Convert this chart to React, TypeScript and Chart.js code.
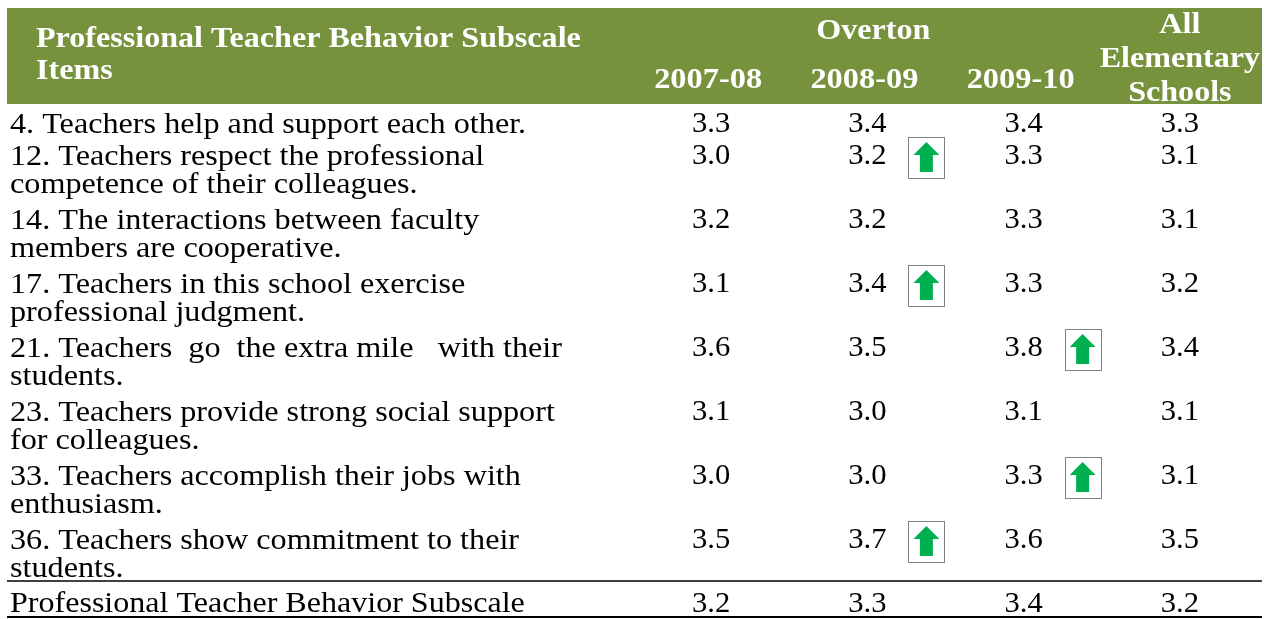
import React, { useEffect, useRef } from "react";
import { Chart, registerables } from "chart.js";

Chart.register(...registerables);

// ---------- data ----------
const itemLabels: string[][] = [
  ["4. Teachers help and support each other."],
  ["12. Teachers respect the professional", "competence of their colleagues."],
  ["14. The interactions between faculty", "members are cooperative."],
  ["17. Teachers in this school exercise", "professional judgment."],
  ["21. Teachers  go  the extra mile   with their", "students."],
  ["23. Teachers provide strong social support", "for colleagues."],
  ["33. Teachers accomplish their jobs with", "enthusiasm."],
  ["36. Teachers show commitment to their", "students."],
];
const summaryLabel = "Professional Teacher Behavior Subscale";
const headerTitle = ["Professional Teacher Behavior Subscale", "Items"];
const groupLabel = "Overton";
const columnLabels: string[][] = [["2007-08"], ["2008-09"], ["2009-10"], ["All", "Elementary", "Schools"]];

const values2007 = [3.3, 3.0, 3.2, 3.1, 3.6, 3.1, 3.0, 3.5];
const values2008 = [3.4, 3.2, 3.2, 3.4, 3.5, 3.0, 3.0, 3.7];
const values2009 = [3.4, 3.3, 3.3, 3.3, 3.8, 3.1, 3.3, 3.6];
const valuesAll = [3.3, 3.1, 3.1, 3.2, 3.4, 3.1, 3.1, 3.5];
const summaryValues = [3.2, 3.3, 3.4, 3.2];

const up2007 = [false, false, false, false, false, false, false, false];
const up2008 = [false, true, false, true, false, false, false, true];
const up2009 = [false, false, false, false, true, false, true, false];
const upAll = [false, false, false, false, false, false, false, false];

// row positions (in text lines) derived from labels
const rowPos: number[] = [];
{
  let acc = 0;
  for (const l of itemLabels) {
    rowPos.push(acc);
    acc += l.length;
  }
  rowPos.push(acc);
}

const columns = [
  { values: values2007, up: up2007 },
  { values: values2008, up: up2008 },
  { values: values2009, up: up2009 },
  { values: valuesAll, up: upAll },
];

const GREEN = "#77923C";
const SERIF = '"Liberation Serif", "Times New Roman", serif';

function txt(ctx: CanvasRenderingContext2D, s: string, x: number, y: number, sx: number) {
  ctx.save();
  ctx.translate(x, y);
  ctx.scale(sx, 1);
  ctx.fillText(s, 0, 0);
  ctx.restore();
}

const tablePlugin = {
  id: "tablePlugin",
  afterDatasetsDraw(chart: any) {
    const ctx: CanvasRenderingContext2D = chart.ctx;
    const xs = chart.scales.x;
    const ys = chart.scales.y;
    ctx.save();

    // header band
    ctx.fillStyle = GREEN;
    ctx.fillRect(7, 8, 1262 - 7, 104 - 8);
    ctx.fillStyle = "#ffffff";
    ctx.font = `bold 30px ${SERIF}`;
    ctx.textBaseline = "middle";
    ctx.textAlign = "left";
    txt(ctx, headerTitle[0], 36, 39, 1.07);
    txt(ctx, headerTitle[1], 36, 71, 1.07);
    ctx.textAlign = "center";
    txt(ctx, groupLabel, xs.getPixelForValue(2) + 6, 31, 1.07);
    columnLabels.forEach((lines, i) => {
      const cx = xs.getPixelForValue(i + 1);
      if (lines.length === 1) {
        txt(ctx, lines[0], cx - 3, 80, 1.08);
      } else {
        lines.forEach((t, k) => txt(ctx, t, cx, 25 + k * 34, 1.07));
      }
    });

    // row labels
    ctx.fillStyle = "#000000";
    ctx.font = `29px ${SERIF}`;
    ctx.textAlign = "left";
    itemLabels.forEach((lines, r) => {
      const y = ys.getPixelForValue(rowPos[r]);
      lines.forEach((t, k) => txt(ctx, t, 10, y + 1 + k * 28, 1.11));
    });
    const sy = ys.getPixelForValue(rowPos[itemLabels.length]);
    txt(ctx, summaryLabel, 10, sy, 1.105);

    // values + arrows
    ctx.font = `30px ${SERIF}`;
    ctx.textAlign = "center";
    chart.data.datasets.forEach((ds: any, di: number) => {
      const meta = chart.getDatasetMeta(di);
      meta.data.forEach((pt: any, j: number) => {
        const v = ds.data[j].v;
        ctx.fillStyle = "#000000";
        txt(ctx, v.toFixed(1), pt.x, pt.y, 1.02);
        if (ds.data[j].up) {
          const bx = pt.x + 59;
          const by = pt.y + 1;
          const bw = 36, bh = 41;
          ctx.fillStyle = "#ffffff";
          ctx.fillRect(bx - bw / 2, by - bh / 2, bw, bh);
          ctx.strokeStyle = "#7f7f7f";
          ctx.lineWidth = 1;
          ctx.strokeRect(Math.round(bx - bw / 2) + 0.5, Math.round(by - bh / 2) + 0.5, bw, bh);
          ctx.fillStyle = "#00B050";
          ctx.beginPath();
          const top = by - 15, mid = by - 2, bot = by + 15;
          ctx.moveTo(bx, top);
          ctx.lineTo(bx + 13, mid);
          ctx.lineTo(bx + 6.5, mid);
          ctx.lineTo(bx + 6.5, bot);
          ctx.lineTo(bx - 6.5, bot);
          ctx.lineTo(bx - 6.5, mid);
          ctx.lineTo(bx - 13, mid);
          ctx.closePath();
          ctx.fill();
        }
      });
    });

    // rules
    ctx.strokeStyle = "#404040";
    ctx.lineWidth = 2;
    ctx.beginPath();
    ctx.moveTo(7, sy - 23);
    ctx.lineTo(1262, sy - 23);
    ctx.stroke();
    ctx.strokeStyle = "#000000";
    ctx.beginPath();
    ctx.moveTo(7, sy + 13);
    ctx.lineTo(1262, sy + 13);
    ctx.stroke();
    ctx.restore();
  },
};

export default function App() {
  const ref = useRef<HTMLCanvasElement | null>(null);
  useEffect(() => {
    if (!ref.current) return;
    const datasets = columns.map((c, ci) => ({
      label: columnLabels[ci].join(" "),
      data: [
        ...c.values.map((v, j) => ({ x: ci + 1, y: rowPos[j], v, up: c.up[j] })),
        { x: ci + 1, y: rowPos[itemLabels.length], v: summaryValues[ci], up: false },
      ],
      pointRadius: 0,
      showLine: false,
    }));
    // x: 1..4 -> ~711..1180 ; y: 0..15 -> 124..604
    const chart = new Chart(ref.current, {
      type: "scatter",
      data: { datasets },
      options: {
        animation: false,
        responsive: false,
        maintainAspectRatio: false,
        events: [],
        layout: { padding: { left: 633, right: 8, top: 12, bottom: 7 } },
        plugins: { legend: { display: false }, tooltip: { enabled: false } },
        scales: {
          x: { type: "linear", display: false, min: 0.5, max: 4.5 },
          y: { type: "linear", display: false, reverse: true, min: -3.5, max: 15.25 },
        },
      },
      plugins: [tablePlugin],
    });
    return () => chart.destroy();
  }, []);
  return (
    <div style={{ position: "fixed", left: 0, top: 0, width: 1266, height: 619, background: "#fff" }}>
      <canvas ref={ref} width={1266} height={619} style={{ width: 1266, height: 619, display: "block" }} />
    </div>
  );
}
